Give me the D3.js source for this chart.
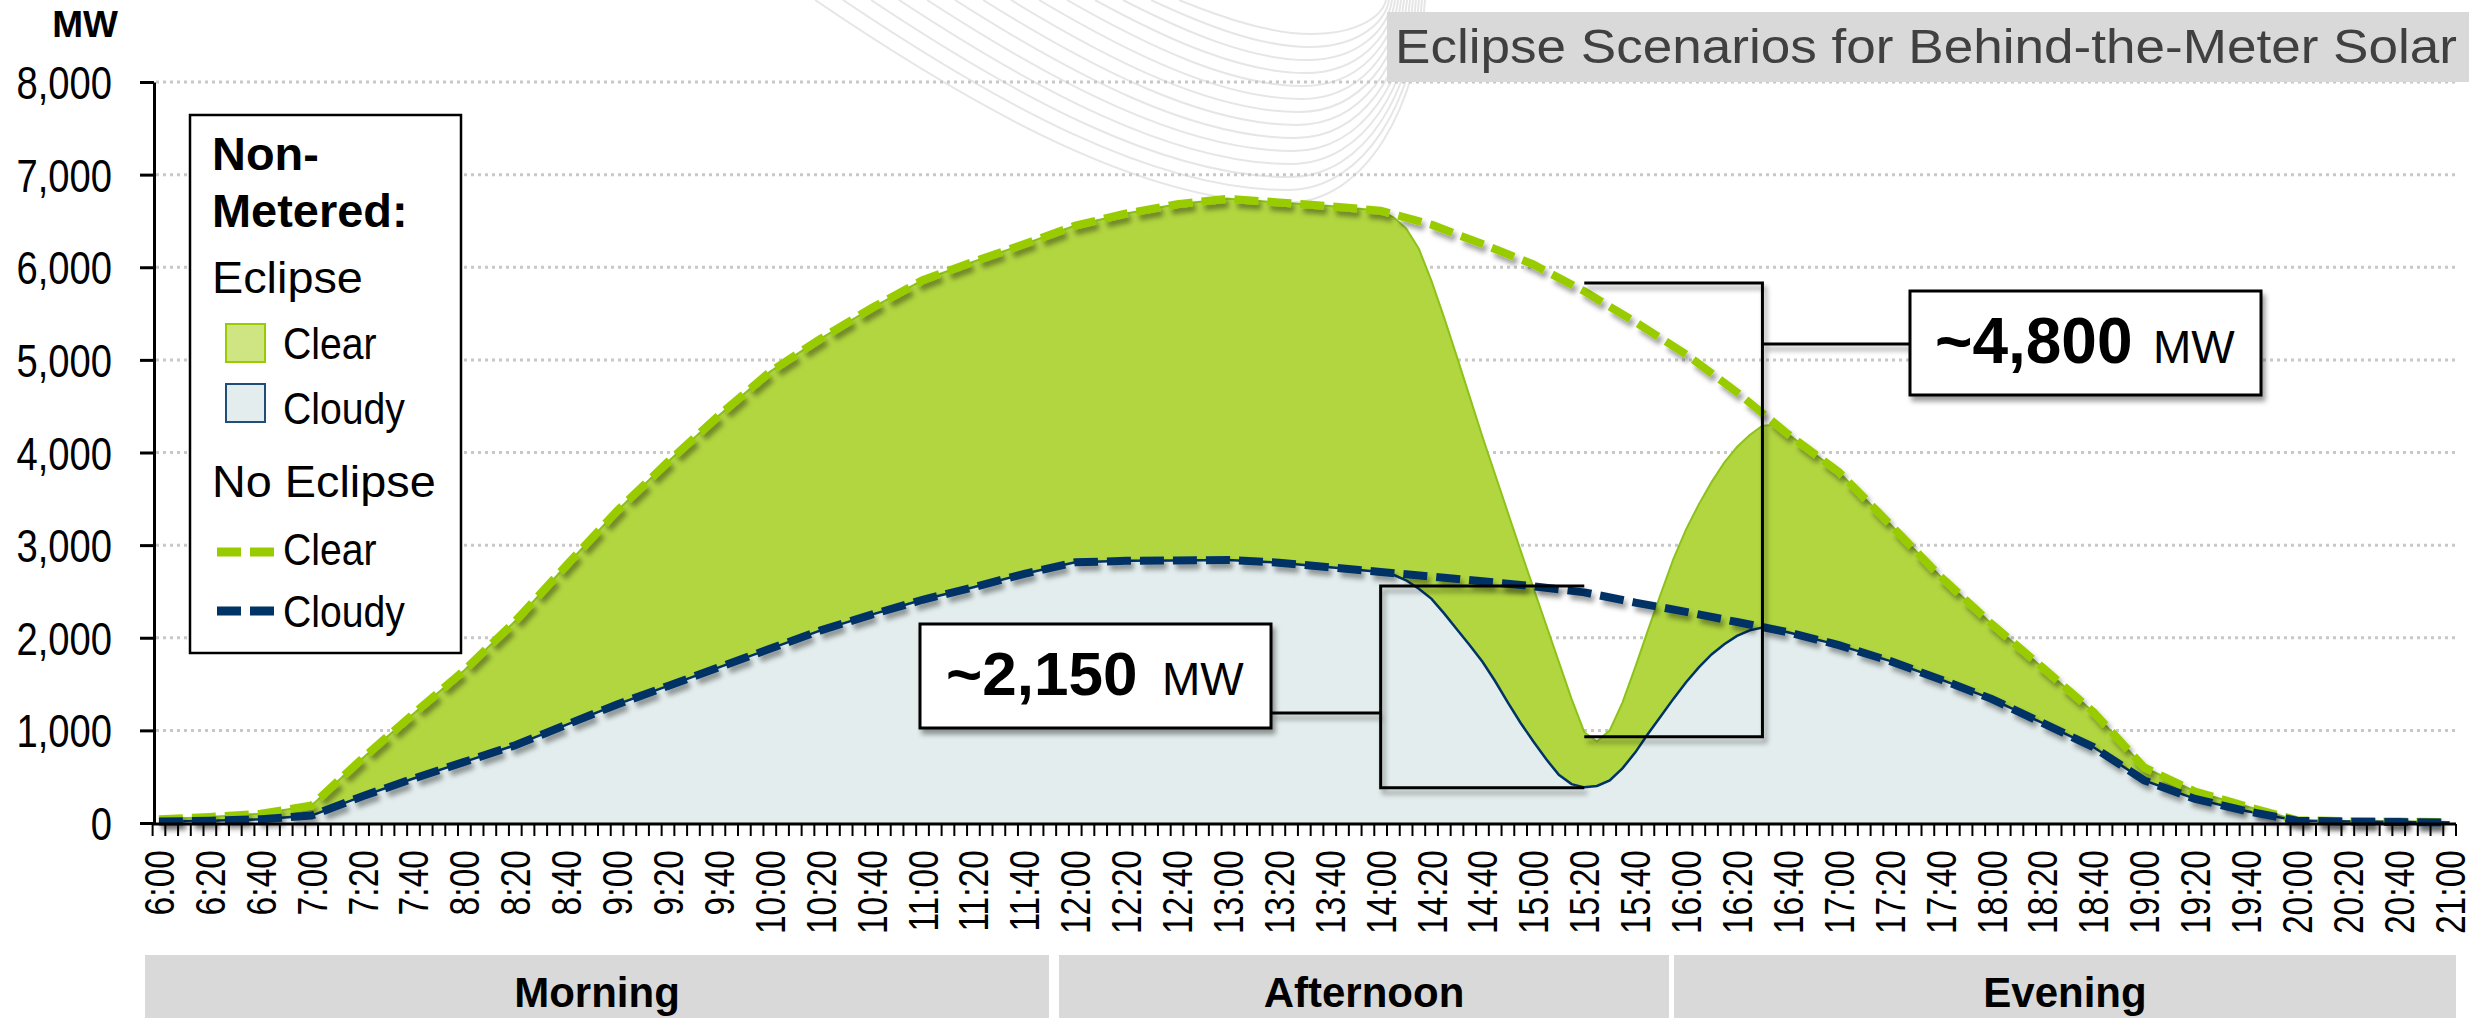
<!DOCTYPE html>
<html>
<head>
<meta charset="utf-8">
<title>Eclipse Scenarios for Behind-the-Meter Solar</title>
<script src="https://d3js.org/d3.v7.min.js"></script>
<style>
  html, body { margin: 0; padding: 0; background: #fff; }
  svg { display: block; font-family: "Liberation Sans", Arial, sans-serif; }
</style>
</head>
<body>
<svg id="chart" width="2486" height="1018"></svg>
<script>
// tick labels, one every 20 minutes
const tickLabels = ["6:00","6:20","6:40","7:00","7:20","7:40","8:00","8:20","8:40","9:00","9:20","9:40",
  "10:00","10:20","10:40","11:00","11:20","11:40","12:00","12:20","12:40","13:00","13:20","13:40",
  "14:00","14:20","14:40","15:00","15:20","15:40","16:00","16:20","16:40","17:00","17:20","17:40",
  "18:00","18:20","18:40","19:00","19:20","19:40","20:00","20:20","20:40","21:00"];

// no eclipse, MW at each tick label
const clearNoEclipse = [40,65,100,190,700,1180,1650,2180,2780,3370,3900,4400,
  4870,5230,5560,5860,6060,6250,6450,6580,6680,6740,6700,6660,
  6610,6460,6250,6030,5740,5410,5060,4650,4200,3790,3230,2660,
  2150,1680,1200,600,340,180,30,20,15,10];
const cloudyNoEclipse = [15,25,40,80,290,480,660,840,1060,1280,1480,1680,
  1880,2080,2250,2410,2545,2690,2815,2830,2835,2840,2810,2760,
  2710,2660,2610,2555,2490,2380,2280,2170,2060,1920,1750,1550,
  1340,1080,820,460,260,130,25,15,10,5];

// eclipse window, every 5 minutes
const eclipseTimes = ["14:00","14:05","14:10","14:15","14:20","14:25","14:30","14:35","14:40","14:45","14:50","14:55",
  "15:00","15:05","15:10","15:15","15:20","15:25","15:30","15:35","15:40","15:45","15:50","15:55",
  "16:00","16:05","16:10","16:15","16:20","16:25","16:30","16:35","16:40"];
const clearEclipse = [6610,6540,6420,6200,5850,5450,5030,4600,4170,3760,3350,2940,
  2540,2140,1740,1340,980,880,1000,1300,1680,2080,2470,2850,
  3170,3440,3680,3890,4060,4190,4290,4300,4200];
const cloudyEclipse = [2710,2680,2620,2530,2420,2260,2090,1920,1740,1530,1300,1080,
  880,690,520,420,385,400,460,590,760,960,1150,1340,
  1520,1680,1820,1930,2020,2080,2110,2090,2060];

const yTicks = [0,1000,2000,3000,4000,5000,6000,7000,8000];

// callouts: bracket spans
const callouts = [
  { label: "~4,800", from: "15:20", to: "16:30", hi: 5830, lo: 930 },
  { label: "~2,150", from: "15:20", to: "14:00", hi: 2560, lo: 380 }
];

const periods = [
  { name: "Morning", x0: 145, x1: 1049 },
  { name: "Afternoon", x0: 1059, x1: 1669 },
  { name: "Evening", x0: 1674, x1: 2456 }
];

const green = "#99cc00", greenFill = "#b1d63f", navy = "#003366", cloudFill = "#e3eded";

const svg = d3.select("#chart");

const toMin = s => { const p = s.split(":"); return +p[0] * 60 + +p[1]; };
const fmt = m => Math.floor(m / 60) + ":" + String(m % 60).padStart(2, "0");
const categories = d3.range(toMin("6:00"), toMin("21:00") + 1, 5).map(fmt);

const x = d3.scalePoint().domain(categories).range([152.6, 2456]).padding(0.5);
const y = d3.scaleLinear().domain([0, 8000]).range([823, 82]);
const step = x.step();

function stretch(sel, k) {
  sel.each(function () {
    const w = this.getComputedTextLength();
    d3.select(this).attr("textLength", w * k).attr("lengthAdjust", "spacingAndGlyphs");
  });
}

// shadow
const defs = svg.append("defs");
const flt = defs.append("filter").attr("id", "shadow")
  .attr("x", "-5%").attr("y", "-5%").attr("width", "115%").attr("height", "120%");
flt.append("feDropShadow").attr("dx", 3).attr("dy", 5).attr("stdDeviation", 2.5)
  .attr("flood-color", "#000").attr("flood-opacity", 0.38);

// background sun arcs
const wm = svg.append("g").attr("fill", "none").attr("stroke", "#e6e6e6").attr("stroke-width", 2);
d3.range(14).forEach(i => {
  const x0 = 815 + i * 28, xb = 1285 + i * 2, yb = 203 - i * 13, x1 = 1425 - i * 3;
  wm.append("path").attr("d",
    `M${x0},0 C${x0 + 0.35 * (xb - x0)},${0.55 * yb} ${xb - 0.3 * (xb - x0)},${yb} ${xb},${yb}` +
    ` C${xb + 0.6 * (x1 - xb)},${yb} ${x1 - 0.05 * (x1 - xb)},${0.5 * yb} ${x1},0`);
});

// gridlines
svg.append("g").selectAll("line").data(yTicks.filter(d => d > 0)).join("line")
  .attr("x1", 156).attr("x2", 2456)
  .attr("y1", d => y(d)).attr("y2", d => y(d))
  .attr("stroke", "#c8c8c8").attr("stroke-width", 3).attr("stroke-dasharray", "3 4");

// build series
function merged(base, win) {
  const a = toMin(eclipseTimes[0]), b = toMin(eclipseTimes[eclipseTimes.length - 1]);
  const pts = tickLabels.map((t, i) => ({ t, v: base[i] }))
    .filter(d => toMin(d.t) < a || toMin(d.t) > b);
  eclipseTimes.forEach((t, i) => pts.push({ t, v: win[i] }));
  return pts.sort((p, q) => toMin(p.t) - toMin(q.t));
}
const clearE = merged(clearNoEclipse, clearEclipse);
const cloudyE = merged(cloudyNoEclipse, cloudyEclipse);
const clearN = tickLabels.map((t, i) => ({ t, v: clearNoEclipse[i] }));
const cloudyN = tickLabels.map((t, i) => ({ t, v: cloudyNoEclipse[i] }));

const area = d3.area().x(d => x(d.t)).y0(y(0)).y1(d => y(d.v));
const line = d3.line().x(d => x(d.t)).y(d => y(d.v));

svg.append("path").attr("d", area(clearE)).attr("fill", greenFill);
svg.append("path").attr("d", line(clearE)).attr("fill", "none").attr("stroke", "#8cc21a").attr("stroke-width", 2);
svg.append("path").attr("d", area(cloudyE)).attr("fill", cloudFill);
svg.append("path").attr("d", line(cloudyE)).attr("fill", "none").attr("stroke", navy).attr("stroke-width", 2.5);

svg.append("path").attr("d", line(clearN)).attr("fill", "none").attr("stroke", green)
  .attr("stroke-width", 8).attr("stroke-dasharray", "24 9").attr("filter", "url(#shadow)");
svg.append("path").attr("d", line(cloudyN)).attr("fill", "none").attr("stroke", navy)
  .attr("stroke-width", 8).attr("stroke-dasharray", "24 9").attr("filter", "url(#shadow)");

// y axis
const yAxis = svg.append("g").attr("transform", "translate(154,0)")
  .call(d3.axisLeft(y).tickValues(yTicks).tickSize(14).tickSizeOuter(0).tickPadding(28).tickFormat(d3.format(",")));
yAxis.select(".domain").attr("stroke", "#000").attr("stroke-width", 3);
yAxis.selectAll(".tick line").attr("stroke", "#000").attr("stroke-width", 3);
yAxis.selectAll(".tick text").attr("font-size", 46).attr("font-family", "Liberation Sans, Arial, sans-serif")
  .attr("fill", "#000").attr("dy", "0.36em").call(stretch, 0.83);

// x axis
const xAxis = svg.append("g");
xAxis.append("line").attr("x1", x(categories[0]) - step / 2).attr("x2", x(categories[categories.length - 1]) + step / 2)
  .attr("y1", y(0) + 1).attr("y2", y(0) + 1).attr("stroke", "#000").attr("stroke-width", 3);
xAxis.selectAll(".tk").data(d3.range(categories.length + 1)).join("line").attr("class", "tk")
  .attr("x1", i => x(categories[0]) - step / 2 + i * step).attr("x2", i => x(categories[0]) - step / 2 + i * step)
  .attr("y1", y(0) + 1).attr("y2", y(0) + 13).attr("stroke", "#000").attr("stroke-width", 2);
xAxis.selectAll("text").data(tickLabels).join("text")
  .attr("transform", d => `translate(${x(d) + 15},850) rotate(-90)`)
  .attr("text-anchor", "end").attr("font-size", 42).attr("fill", "#000")
  .text(d => d).call(stretch, 0.8);

// MW unit
svg.append("text").attr("x", 85).attr("y", 37).attr("text-anchor", "middle")
  .attr("font-size", 37).attr("font-weight", "bold").text("MW");

// legend
const lg = svg.append("g");
lg.append("rect").attr("x", 190).attr("y", 115).attr("width", 271).attr("height", 538)
  .attr("fill", "#fff").attr("stroke", "#000").attr("stroke-width", 2.5);
lg.append("text").attr("x", 212).attr("y", 170).attr("font-size", 46).attr("font-weight", "bold").text("Non-").call(stretch, 1.02);
lg.append("text").attr("x", 212).attr("y", 227).attr("font-size", 46).attr("font-weight", "bold").text("Metered:").call(stretch, 1.02);
lg.append("text").attr("x", 212).attr("y", 293).attr("font-size", 45).text("Eclipse").call(stretch, 1.04);
lg.append("rect").attr("x", 226).attr("y", 324).attr("width", 39).attr("height", 38)
  .attr("fill", "#cfe483").attr("stroke", green).attr("stroke-width", 2);
lg.append("text").attr("x", 283).attr("y", 359).attr("font-size", 45).text("Clear").call(stretch, 0.87);
lg.append("rect").attr("x", 226).attr("y", 384).attr("width", 39).attr("height", 38)
  .attr("fill", cloudFill).attr("stroke", "#1f4e79").attr("stroke-width", 2);
lg.append("text").attr("x", 283).attr("y", 424).attr("font-size", 45).text("Cloudy").call(stretch, 0.87);
lg.append("text").attr("x", 212).attr("y", 497).attr("font-size", 45).text("No Eclipse").call(stretch, 1.04);
lg.append("line").attr("x1", 217).attr("x2", 274).attr("y1", 552).attr("y2", 552)
  .attr("stroke", green).attr("stroke-width", 9).attr("stroke-dasharray", "24 9");
lg.append("text").attr("x", 283).attr("y", 565).attr("font-size", 45).text("Clear").call(stretch, 0.87);
lg.append("line").attr("x1", 217).attr("x2", 274).attr("y1", 611).attr("y2", 611)
  .attr("stroke", navy).attr("stroke-width", 9).attr("stroke-dasharray", "24 9");
lg.append("text").attr("x", 283).attr("y", 627).attr("font-size", 45).text("Cloudy").call(stretch, 0.87);

// title
svg.append("rect").attr("x", 1387).attr("y", 12).attr("width", 1082).attr("height", 70).attr("fill", "#d9d9d9");
svg.append("text").attr("x", 1395).attr("y", 63).attr("font-size", 48).attr("fill", "#404040")
  .attr("textLength", 1062).attr("lengthAdjust", "spacingAndGlyphs")
  .text("Eclipse Scenarios for Behind-the-Meter Solar");

// callouts
const boxes = [
  { x: 1910, y: 291, w: 351, h: 104, ly: 344, tx: 1935, ux: 2153, base: 363, size: 64 },
  { x: 920, y: 624, w: 351, h: 104, ly: 713, tx: 946, ux: 1162, base: 695, size: 62 }
];
callouts.forEach((c, i) => {
  const b = boxes[i];
  const xa = x(c.from), xb = x(c.to);
  const g = svg.append("g").attr("filter", "url(#shadow)");
  g.append("path")
    .attr("d", `M${xa},${y(c.hi)} H${xb} V${y(c.lo)} H${xa}`)
    .attr("fill", "none").attr("stroke", "#000").attr("stroke-width", 3);
  const edge = xb > b.x ? b.x + b.w : b.x;
  g.append("line").attr("x1", xb).attr("x2", edge).attr("y1", b.ly).attr("y2", b.ly)
    .attr("stroke", "#000").attr("stroke-width", 3);
  g.append("rect").attr("x", b.x).attr("y", b.y).attr("width", b.w).attr("height", b.h)
    .attr("fill", "#fff").attr("stroke", "#000").attr("stroke-width", 3);
  svg.append("text").attr("x", b.tx).attr("y", b.base).attr("font-size", b.size).attr("font-weight", "bold").text(c.label);
  svg.append("text").attr("x", b.ux).attr("y", b.base).attr("font-size", 46).text("MW");
});

// period bands
const pg = svg.append("g");
pg.selectAll("rect").data(periods).join("rect")
  .attr("x", d => d.x0).attr("y", 955).attr("width", d => d.x1 - d.x0).attr("height", 63).attr("fill", "#d9d9d9");
pg.selectAll("text").data(periods).join("text")
  .attr("x", d => (d.x0 + d.x1) / 2).attr("y", 1007).attr("text-anchor", "middle")
  .attr("font-size", 42).attr("font-weight", "bold").text(d => d.name);
</script>
</body>
</html>
